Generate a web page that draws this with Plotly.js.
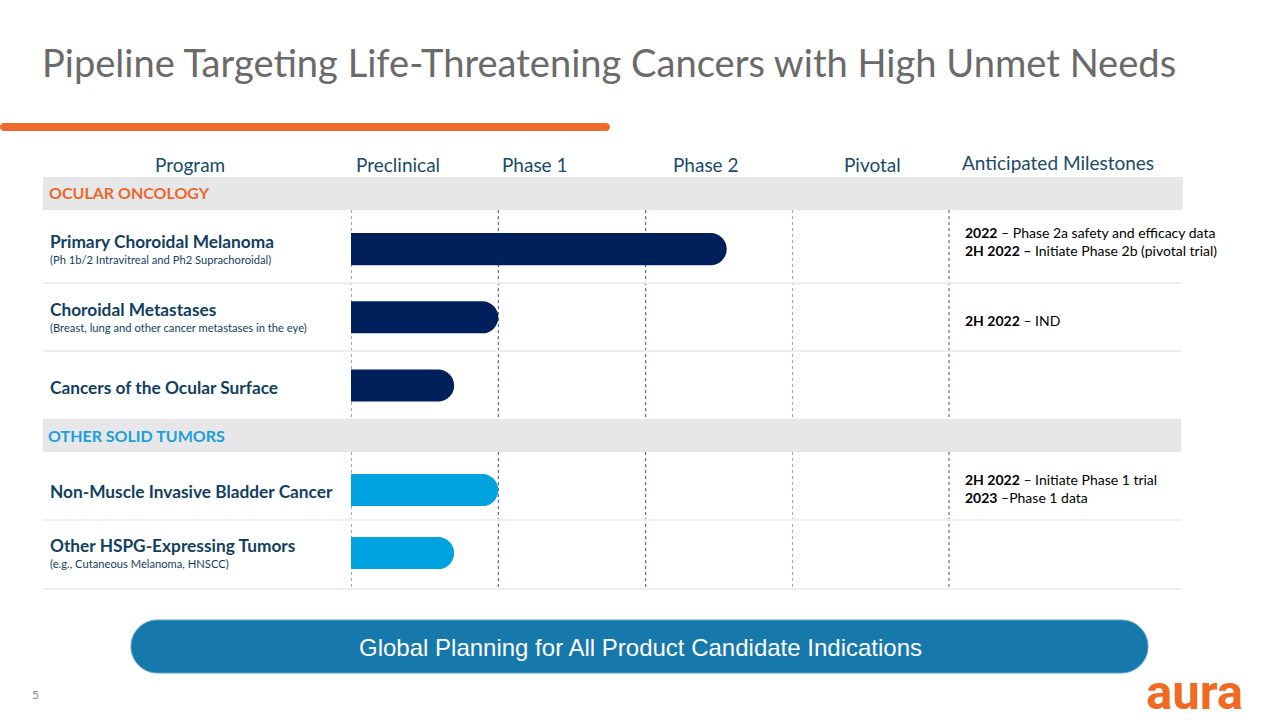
<!DOCTYPE html>
<html>
<head>
<meta charset="utf-8">
<script src="https://cdn.plot.ly/plotly-3.0.1.min.js"></script>
<style>html,body{margin:0;padding:0;background:#fff;}#chart{width:1280px;height:720px;}</style>
</head>
<body>
<div id="chart"></div>
<script>
// ---------- data ----------
const phases = ['Preclinical', 'Phase 1', 'Phase 2', 'Pivotal'];
const sectionNames = ['OCULAR ONCOLOGY', 'OTHER SOLID TUMORS'];
const ocularPrograms = ['Primary Choroidal Melanoma', 'Choroidal Metastases', 'Cancers of the Ocular Surface'];
const ocularSubtitles = ['(Ph 1b/2 Intravitreal and Ph2 Suprachoroidal)', '(Breast, lung and other cancer metastases in the eye)', ''];
const ocularProgress = [2.55, 1.0, 0.70];   // in phase units from start of Preclinical
const ocularMilestones = [
  '<b>2022</b> – Phase 2a safety and efficacy data<br><b>2H 2022 –</b> Initiate Phase 2b (pivotal trial)',
  '<b>2H 2022</b> – IND',
  ''
];
const solidPrograms = ['Non-Muscle Invasive Bladder Cancer', 'Other HSPG-Expressing Tumors'];
const solidSubtitles = ['', '(e.g., Cutaneous Melanoma, HNSCC)'];
const solidProgress = [1.0, 0.70];
const solidMilestones = [
  '<b>2H 2022</b> – Initiate Phase 1 trial<br><b>2023</b> –Phase 1 data',
  ''
];
const headerProgram = 'Program';
const headerMilestones = 'Anticipated Milestones';
const titleText = 'Pipeline Targeting Life-Threatening Cancers with High Unmet Needs';
const footerText = 'Global Planning for All Product Candidate Indications';
const pageNumber = '5';
const logoText = 'aura';

// ---------- style / placement (not data) ----------
const ocularMilestoneShift = [8, -3, 0];
const solidMilestoneShift = [1, 0];

// ---------- helpers ----------
const W = 1280, H = 720;
const px = x => x / W;
const py = y => 1 - y / H;
function roundedPath(x0, y0, x1, y1, r) {
  const k = 0.5523 * r;
  const P = (x, y) => px(x) + ',' + py(y);
  return 'M' + P(x0 + r, y0) + ' L' + P(x1 - r, y0) +
    ' C' + P(x1 - r + k, y0) + ' ' + P(x1, y0 + r - k) + ' ' + P(x1, y0 + r) +
    ' L' + P(x1, y1 - r) +
    ' C' + P(x1, y1 - r + k) + ' ' + P(x1 - r + k, y1) + ' ' + P(x1 - r, y1) +
    ' L' + P(x0 + r, y1) +
    ' C' + P(x0 + r - k, y1) + ' ' + P(x0, y1 - r + k) + ' ' + P(x0, y1 - r) +
    ' L' + P(x0, y0 + r) +
    ' C' + P(x0, y0 + r - k) + ' ' + P(x0 + r - k, y0) + ' ' + P(x0 + r, y0) + ' Z';
}

const FONT = 'Lato, "Open Sans", sans-serif';
const DARK = '#123f5f';
const NAVY = '#00205b';
const LIGHTBLUE = '#00a3e0';

// ---------- traces ----------
const traces = [
  {
    type: 'bar', orientation: 'h',
    x: ocularProgress, y: ocularPrograms,
    xaxis: 'x', yaxis: 'y',
    width: 0.47,
    marker: {color: NAVY, cornerradius: 16, line: {width: 0}},
    hoverinfo: 'y', showlegend: false
  },
  {
    type: 'bar', orientation: 'h',
    x: solidProgress, y: solidPrograms,
    xaxis: 'x', yaxis: 'y2',
    width: 0.51,
    marker: {color: LIGHTBLUE, cornerradius: 16, line: {width: 0}},
    hoverinfo: 'y', showlegend: false
  }
];

// ---------- shapes ----------
const shapes = [];
shapes.push({type: 'path', xref: 'paper', yref: 'paper', path: roundedPath(0, 123, 610, 131, 4),
  fillcolor: '#ee6b2d', line: {width: 0}, layer: 'below'});
for (let i = 0; i < phases.length; i++) {
  [[210, 419], [452, 589]].forEach(seg => {
    shapes.push({type: 'line', xref: 'x', yref: 'paper', x0: i, x1: i, y0: py(seg[0]), y1: py(seg[1]),
      line: {color: '#2e5a88', width: 1, dash: 'dot'}, layer: 'below'});
  });
}
[[210, 419], [452, 589]].forEach(seg => {
  shapes.push({type: 'line', xref: 'paper', yref: 'paper', x0: px(949), x1: px(949), y0: py(seg[0]), y1: py(seg[1]),
    line: {color: '#2e5a88', width: 1, dash: 'dot'}, layer: 'below'});
});
shapes.push({type: 'rect', xref: 'paper', yref: 'paper', x0: px(43), x1: px(1183), y0: py(177), y1: py(210),
  fillcolor: '#e7e7e9', line: {width: 0}, layer: 'below'});
shapes.push({type: 'rect', xref: 'paper', yref: 'paper', x0: px(43), x1: px(1181), y0: py(419), y1: py(452),
  fillcolor: '#e7e7e9', line: {width: 0}, layer: 'below'});
[283, 351, 520, 589].forEach(y => {
  shapes.push({type: 'line', xref: 'paper', yref: 'paper', x0: px(43), x1: px(1182), y0: py(y), y1: py(y),
    line: {color: '#eeeeee', width: 2}, layer: 'below'});
});
shapes.push({type: 'path', xref: 'paper', yref: 'paper', path: roundedPath(131, 620, 1148, 673, 26.5),
  fillcolor: '#1779ab', line: {color: '#5aa3cc', width: 1}, layer: 'below'});

// ---------- annotations ----------
const ann = [];
ann.push({xref: 'paper', yref: 'paper', x: px(40), y: py(62), xanchor: 'left', yanchor: 'middle', showarrow: false,
  text: titleText, font: {family: FONT, size: 38.1, color: '#6a6a6a'}});
ann.push({xref: 'paper', yref: 'paper', x: px(190), y: py(165), xanchor: 'center', yanchor: 'middle', showarrow: false,
  text: headerProgram, font: {family: FONT, size: 19, color: '#1a4a66'}});
const phaseHeaderX = [398, 535, 706, 872];
phases.forEach((p, i) => {
  ann.push({xref: 'paper', yref: 'paper', x: px(phaseHeaderX[i]), y: py(165), xanchor: 'center', yanchor: 'middle', showarrow: false,
    text: p, font: {family: FONT, size: 19, color: '#1a4a66'}});
});
ann.push({xref: 'paper', yref: 'paper', x: px(1058), y: py(163), xanchor: 'center', yanchor: 'middle', showarrow: false,
  text: headerMilestones, font: {family: FONT, size: 19, color: '#1a4a66'}});
ann.push({xref: 'paper', yref: 'paper', x: px(47), y: py(193), xanchor: 'left', yanchor: 'middle', showarrow: false,
  text: '<b>' + sectionNames[0] + '</b>', font: {family: FONT, size: 16, color: '#e8692c'}});
ann.push({xref: 'paper', yref: 'paper', x: px(46), y: py(435), xanchor: 'left', yanchor: 'middle', showarrow: false,
  text: '<b>' + sectionNames[1] + '</b>', font: {family: FONT, size: 16, color: '#1a9fd8'}});
function addRows(programs, subs, miles, shifts, yref) {
  programs.forEach((p, i) => {
    const hasSub = subs[i] !== '';
    ann.push({xref: 'paper', yref: yref, x: px(48), y: p, xanchor: 'left', yanchor: 'middle', showarrow: false,
      yshift: hasSub ? 8 : -2, text: '<b>' + p + '</b>', font: {family: FONT, size: 17.3, color: DARK}});
    if (hasSub) {
      ann.push({xref: 'paper', yref: yref, x: px(48), y: p, xanchor: 'left', yanchor: 'middle', showarrow: false,
        yshift: -10, text: subs[i], font: {family: FONT, size: 11.2, color: DARK}});
    }
    if (miles[i] !== '') {
      ann.push({xref: 'paper', yref: yref, x: px(963), y: p, xanchor: 'left', yanchor: 'middle', showarrow: false,
        align: 'left', yshift: shifts[i], text: miles[i], font: {family: FONT, size: 14, color: '#000000'}});
    }
  });
}
addRows(ocularPrograms, ocularSubtitles, ocularMilestones, ocularMilestoneShift, 'y');
addRows(solidPrograms, solidSubtitles, solidMilestones, solidMilestoneShift, 'y2');
ann.push({xref: 'paper', yref: 'paper', x: px(640), y: py(647), xanchor: 'center', yanchor: 'middle', showarrow: false,
  text: footerText, font: {family: '"Liberation Sans", Arial, sans-serif', size: 24, color: '#ffffff'}});
ann.push({xref: 'paper', yref: 'paper', x: px(35), y: py(694), xanchor: 'center', yanchor: 'middle', showarrow: false,
  text: pageNumber, font: {family: FONT, size: 12, color: '#8a8a8a'}});
ann.push({xref: 'paper', yref: 'paper', x: px(1245), y: py(692), xanchor: 'right', yanchor: 'middle', showarrow: false,
  text: '<b>' + logoText + '</b>', font: {family: 'Roboto, sans-serif', size: 49, color: '#f26a21'}});

// ---------- layout ----------
const layout = {
  width: W, height: H,
  margin: {l: 0, r: 0, t: 0, b: 0, pad: 0},
  paper_bgcolor: '#ffffff', plot_bgcolor: 'rgba(0,0,0,0)',
  showlegend: false,
  xaxis: {domain: [px(351), px(793)], range: [0, 3], visible: false, fixedrange: true},
  yaxis: {domain: [py(419.6), py(215)], type: 'category', range: [2.5, -0.5], visible: false, fixedrange: true},
  yaxis2: {domain: [py(584.5), py(458.5)], type: 'category', range: [1.5, -0.5], visible: false, fixedrange: true, anchor: 'x'},
  shapes: shapes,
  annotations: ann,
  font: {family: FONT}
};

Plotly.newPlot('chart', traces, layout, {displayModeBar: false, staticPlot: true});
</script>
</body>
</html>
